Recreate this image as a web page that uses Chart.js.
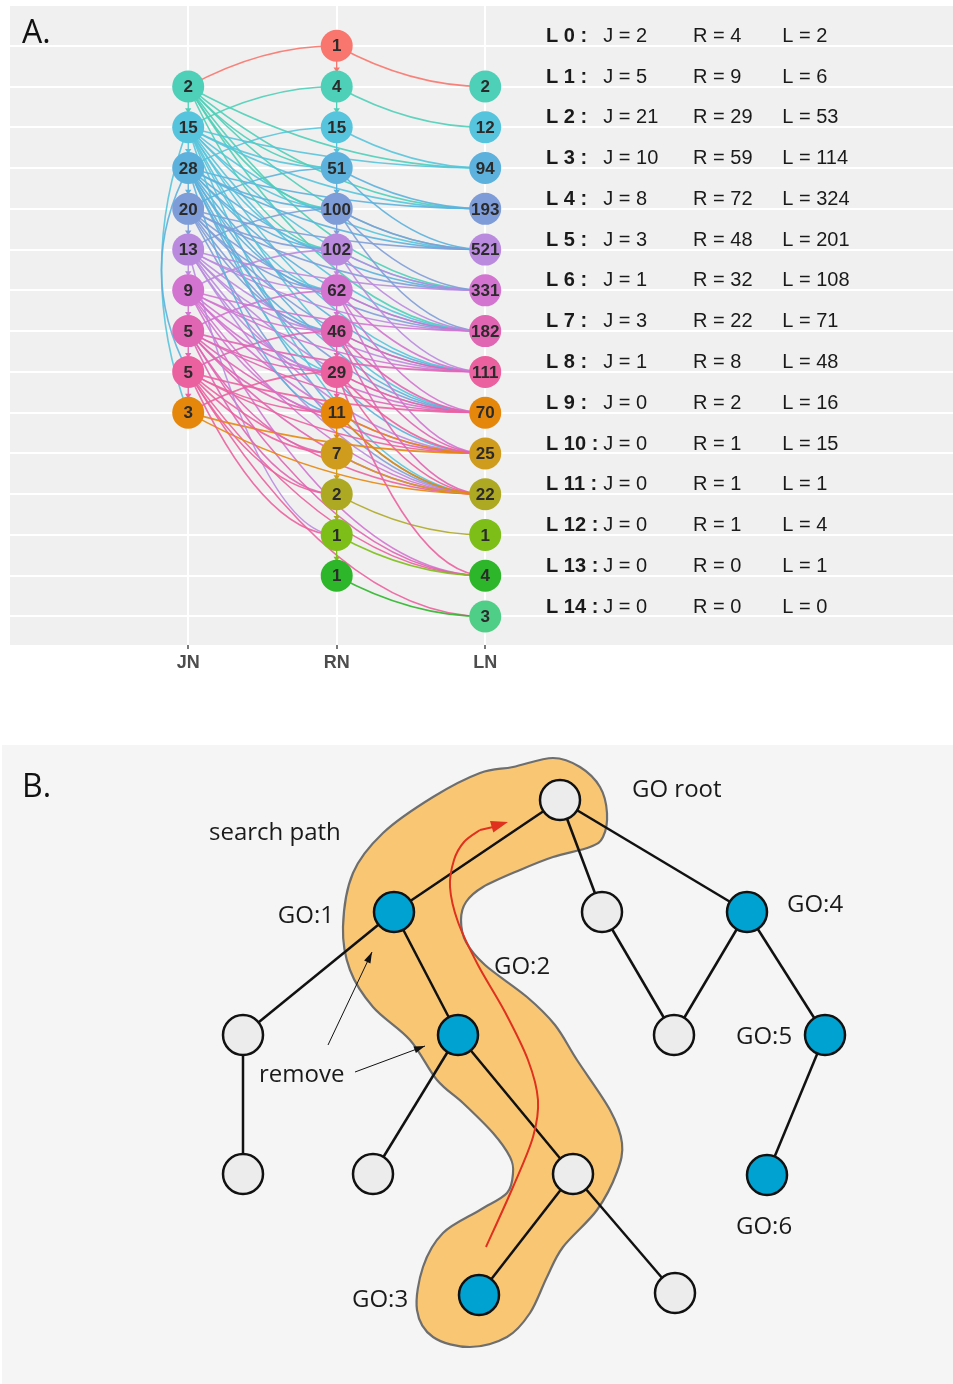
<!DOCTYPE html>
<html>
<head>
<meta charset="utf-8">
<script src="https://cdn.jsdelivr.net/npm/chart.js@4.4.1/dist/chart.umd.min.js"></script>
<style>
  html, body { margin: 0; padding: 0; background: #ffffff; }
  body { width: 953px; height: 1384px; position: relative; overflow: hidden; }
  #wrapA { position: absolute; left: 0; top: 0; width: 953px; height: 690px; }
  #wrapB { position: absolute; left: 2px; top: 745px; width: 951px; height: 639px; }
</style>
</head>
<body>
<div id="wrapA"><canvas id="chartA" width="953" height="690"></canvas></div>
<div id="wrapB"><canvas id="chartB" width="951" height="639"></canvas></div>
<script>
// ---------------- Panel A: level graph of JN / RN / LN nodes ----------------
const columnNames = ['JN', 'RN', 'LN'];

const jnLevels = [1, 2, 3, 4, 5, 6, 7, 8, 9];
const jnCounts = [2, 15, 28, 20, 13, 9, 5, 5, 3];

const rnLevels = [0, 1, 2, 3, 4, 5, 6, 7, 8, 9, 10, 11, 12, 13];
const rnCounts = [1, 4, 15, 51, 100, 102, 62, 46, 29, 11, 7, 2, 1, 1];

const lnLevels = [1, 2, 3, 4, 5, 6, 7, 8, 9, 10, 11, 12, 13, 14];
const lnCounts = [2, 12, 94, 193, 521, 331, 182, 111, 70, 25, 22, 1, 4, 3];

// per-level summary printed at the right of the panel
const tableLevels = [0, 1, 2, 3, 4, 5, 6, 7, 8, 9, 10, 11, 12, 13, 14];
const tableJ = [2, 5, 21, 10, 8, 3, 1, 3, 1, 0, 0, 0, 0, 0, 0];
const tableR = [4, 9, 29, 59, 72, 48, 32, 22, 8, 2, 1, 1, 1, 0, 0];
const tableL = [2, 6, 53, 114, 324, 201, 108, 71, 48, 16, 15, 1, 4, 1, 0];

// links between columns, as [level on the left column, level on the right column]
const linksJR = [
  [1, 0], [2, 1], [3, 2], [4, 3], [5, 4], [6, 5], [7, 6], [8, 7], [9, 8],
  [1, 3], [1, 4], [1, 5],
  [2, 3], [2, 4], [2, 5], [2, 6], [2, 8],
  [3, 4], [3, 5], [3, 6], [3, 7], [3, 9],
  [4, 5], [4, 6], [4, 7],
  [5, 6], [5, 7], [5, 8], [5, 12],
  [6, 7], [6, 8], [6, 9],
  [7, 8], [7, 9], [7, 10], [7, 11],
  [8, 9], [8, 10], [8, 11], [8, 12]
];
const linksJL = [
  [1, 3], [1, 4], [1, 5], [1, 6], [1, 7],
  [2, 3], [2, 4], [2, 5], [2, 6], [2, 7], [2, 8], [2, 9], [2, 11],
  [3, 4], [3, 5], [3, 6], [3, 7], [3, 8], [3, 9], [3, 10], [3, 11],
  [4, 5], [4, 6], [4, 7], [4, 8], [4, 9], [4, 11],
  [5, 6], [5, 7], [5, 8], [5, 9], [5, 10], [5, 11],
  [6, 7], [6, 8], [6, 9], [6, 10], [6, 11], [6, 13],
  [7, 8], [7, 9], [7, 10], [7, 11], [7, 13],
  [8, 9], [8, 10], [8, 11], [8, 13], [8, 14],
  [9, 10], [9, 11]
];
const linksRL = [
  [0, 1], [1, 2], [2, 3], [3, 4], [4, 5], [5, 6], [6, 7], [7, 8], [8, 9],
  [9, 10], [10, 11], [11, 12], [12, 13], [13, 14],
  [3, 5], [4, 6], [4, 7], [5, 7], [5, 8], [6, 8], [6, 9], [6, 10],
  [7, 9], [7, 10], [7, 11], [8, 10], [8, 11], [8, 13], [9, 11]
];
// long links inside the JN column, drawn as arcs on its left side
const linksJJ = [[2, 9], [3, 8]];

const levelColors = [
  '#F8766D', '#4ECFB7', '#56C4DC', '#5CB1DD', '#7E9DD8', '#BA8ADF', '#D274D0',
  '#E065B2', '#EB609F', '#E5870B', '#CF9C1D', '#AEA923', '#7DBF18', '#2DB62A', '#4ECE87'
];

const SANS = '"Liberation Sans", Arial, Helvetica, sans-serif';
const HUMAN = '"Open Sans", "Noto Sans", sans-serif';

function columnData(col, levels, counts) {
  return levels.map((lv, i) => ({ x: col, y: lv, n: counts[i] }));
}

const panelBgA = {
  id: 'panelBgA',
  beforeDraw(chart) {
    const { ctx, chartArea: a } = chart;
    ctx.save();
    ctx.fillStyle = '#F0F0F0';
    ctx.fillRect(a.left, a.top, a.right - a.left, a.bottom - a.top);
    ctx.restore();
  }
};

const linkLayer = {
  id: 'linkLayer',
  beforeDatasetsDraw(chart) {
    const { ctx, chartArea: a } = chart;
    const sx = chart.scales.x, sy = chart.scales.y;
    ctx.save();
    ctx.beginPath();
    ctx.rect(a.left, a.top, a.right - a.left, a.bottom - a.top);
    ctx.clip();
    ctx.lineWidth = 1.6;
    ctx.globalAlpha = 0.9;
    ctx.lineCap = 'round';

    const link = (c1, l1, c2, l2) => {
      const x1 = sx.getPixelForValue(c1), y1 = sy.getPixelForValue(l1);
      const x2 = sx.getPixelForValue(c2), y2 = sy.getPixelForValue(l2);
      ctx.strokeStyle = levelColors[Math.min(l1, l2)];
      ctx.beginPath();
      ctx.moveTo(x1, y1);
      ctx.quadraticCurveTo(x1 + (x2 - x1) * 0.5, y2, x2, y2);
      ctx.stroke();
    };
    linksJL.forEach(([a1, b1]) => link(1, a1, 3, b1));
    linksJR.forEach(([a1, b1]) => link(1, a1, 2, b1));
    linksRL.forEach(([a1, b1]) => link(2, a1, 3, b1));

    // arcs on the left of the JN column
    linksJJ.forEach(([l1, l2]) => {
      const x0 = sx.getPixelForValue(1);
      const xc = sx.getPixelForValue(1 - 0.36);
      const y1 = sy.getPixelForValue(l1), y2 = sy.getPixelForValue(l2);
      ctx.strokeStyle = levelColors[Math.min(l1, l2)];
      ctx.beginPath();
      ctx.moveTo(x0, y1);
      ctx.quadraticCurveTo(xc, (y1 + y2) / 2, x0, y2);
      ctx.stroke();
    });

    // short arrows joining consecutive levels inside the JN and RN columns
    ctx.globalAlpha = 1;
    const chain = (col, levels) => {
      for (let i = 0; i < levels.length - 1; i++) {
        const xp = sx.getPixelForValue(col);
        const yA = sy.getPixelForValue(levels[i]) + 15;
        const yB = sy.getPixelForValue(levels[i + 1]) - 15;
        const colr = levelColors[levels[i]];
        ctx.strokeStyle = colr;
        ctx.fillStyle = colr;
        ctx.lineWidth = 1.4;
        ctx.beginPath();
        ctx.moveTo(xp, yA);
        ctx.lineTo(xp, yB - 2);
        ctx.stroke();
        ctx.beginPath();
        ctx.moveTo(xp - 3.2, yB - 4);
        ctx.lineTo(xp + 3.2, yB - 4);
        ctx.lineTo(xp, yB + 1);
        ctx.closePath();
        ctx.fill();
      }
    };
    chain(1, jnLevels);
    chain(2, rnLevels);
    ctx.restore();
  }
};

const nodeText = {
  id: 'nodeText',
  afterDatasetsDraw(chart) {
    const { ctx } = chart;
    ctx.save();
    ctx.font = 'bold 17px ' + SANS;
    ctx.fillStyle = '#2B2B2B';
    ctx.textAlign = 'center';
    ctx.textBaseline = 'middle';
    chart.data.datasets.forEach((ds, di) => {
      const meta = chart.getDatasetMeta(di);
      meta.data.forEach((pt, j) => {
        ctx.fillText(String(ds.data[j].n), pt.x, pt.y + 1);
      });
    });

    // level summary table
    const sx = chart.scales.x, sy = chart.scales.y;
    ctx.textAlign = 'left';
    ctx.fillStyle = '#1A1A1A';
    tableLevels.forEach((lv, i) => {
      const yy = sy.getPixelForValue(lv - 0.23);
      ctx.font = 'bold 20px ' + SANS;
      ctx.fillText('L ' + lv + ' :', sx.getPixelForValue(3.41), yy);
      ctx.font = '20px ' + SANS;
      ctx.fillText('J = ' + tableJ[i], sx.getPixelForValue(3.795), yy);
      ctx.fillText('R = ' + tableR[i], sx.getPixelForValue(4.4), yy);
      ctx.fillText('L = ' + tableL[i], sx.getPixelForValue(5.0), yy);
    });
    ctx.restore();
  },
  afterDraw(chart) {
    const { ctx } = chart;
    ctx.save();
    ctx.font = '32px ' + HUMAN;
    ctx.fillStyle = '#111111';
    ctx.textBaseline = 'alphabetic';
    ctx.fillText('A.', 22, 43);
    ctx.restore();
  }
};

const nodeStyle = (levels) => ({
  backgroundColor: levels.map(lv => levelColors[lv]),
  pointRadius: 16,
  pointHoverRadius: 16,
  borderWidth: 0,
  pointBorderWidth: 0
});

new Chart(document.getElementById('chartA'), {
  type: 'scatter',
  data: {
    datasets: [
      Object.assign({ label: columnNames[0], data: columnData(1, jnLevels, jnCounts) }, nodeStyle(jnLevels)),
      Object.assign({ label: columnNames[1], data: columnData(2, rnLevels, rnCounts) }, nodeStyle(rnLevels)),
      Object.assign({ label: columnNames[2], data: columnData(3, lnLevels, lnCounts) }, nodeStyle(lnLevels))
    ]
  },
  options: {
    responsive: false,
    animation: false,
    events: [],
    layout: { autoPadding: false, padding: { left: 10, top: 5, right: 0, bottom: 15 } },
    plugins: { legend: { display: false }, tooltip: { enabled: false } },
    scales: {
      x: {
        type: 'linear',
        min: -0.2,
        max: 6.15,
        afterBuildTicks: axis => { axis.ticks = [1, 2, 3].map(v => ({ value: v })); },
        afterFit: s => { s.height = 30; },
        ticks: {
          callback: v => columnNames[v - 1],
          font: { family: SANS, size: 18, weight: 'bold' },
          color: '#4D4D4D',
          padding: 3,
          maxRotation: 0,
          autoSkip: false
        },
        grid: { color: '#FFFFFF', lineWidth: 2, tickColor: '#333333', tickLength: 4, tickWidth: 1.3 },
        border: { display: false }
      },
      y: {
        type: 'linear',
        reverse: true,
        min: -1,
        max: 14.7,
        afterBuildTicks: axis => {
          const t = [];
          for (let v = -1; v <= 14; v++) t.push({ value: v });
          axis.ticks = t;
        },
        afterFit: s => { s.width = 0; },
        ticks: { display: false },
        grid: { color: '#FFFFFF', lineWidth: 2, drawTicks: false },
        border: { display: false }
      }
    }
  },
  plugins: [panelBgA, linkLayer, nodeText]
});

// ---------------- Panel B: GO tree with the search path ----------------
// node layout in panel units (x to the right, y downward)
const treeNodeX = [558, 392, 600, 745, 241, 456, 672, 823, 241, 371, 571, 765, 477, 673];
const treeNodeY = [55, 167, 167, 167, 290, 290, 290, 290, 429, 429, 429, 430, 550, 548];
const treeNodeMarked = [0, 1, 0, 1, 0, 1, 0, 1, 0, 0, 0, 1, 1, 0];
const treeEdges = [
  [0, 1], [0, 2], [0, 3], [1, 4], [1, 5], [4, 8], [5, 9], [5, 10],
  [10, 12], [10, 13], [2, 6], [3, 6], [3, 7], [7, 11]
];

const treeLabels = ['GO root', 'search path', 'GO:1', 'GO:2', 'GO:4', 'GO:5', 'GO:6', 'GO:3', 'remove'];
const treeLabelX = [630, 207, 332, 492, 785, 734, 734, 350, 257];
const treeLabelY = [52, 95, 178, 229, 167, 299, 489, 562, 337];
const treeLabelAlign = ['left', 'left', 'right', 'left', 'left', 'left', 'left', 'left', 'left'];

// outline of the highlighted search path
const pathOutlineX = [511, 551, 578, 598, 605, 601, 588, 551, 518, 481, 464, 459, 464, 483, 525, 553, 575,
  608, 620, 615, 595, 561, 545, 528, 505, 468, 431, 415, 421, 441, 478, 505, 511, 508, 491, 461,
  435, 408, 371, 348, 341, 351, 381, 431, 478];
const pathOutlineY = [22, 13, 22, 42, 68, 92, 102, 112, 125, 142, 157, 175, 197, 220, 252, 280, 315,
  365, 398, 427, 465, 502, 532, 568, 592, 602, 592, 565, 522, 488, 465, 448, 428, 412, 388, 358,
  335, 295, 262, 225, 182, 128, 88, 52, 28];

// red search arrow from GO:3 up to the root
const searchArrowX = [484, 511, 531, 536, 526, 503, 476, 456, 448, 452, 462, 478, 506];
const searchArrowY = [502, 442, 392, 355, 315, 267, 220, 177, 142, 115, 97, 85, 77];

// "remove" pointers: [fromX, fromY, toX, toY]
const removePointers = [[326, 300, 370, 207], [353, 327, 423, 301]];

function splinePath(ctx, pts, closed) {
  const n = pts.length;
  const get = i => closed ? pts[(i + n) % n] : pts[Math.max(0, Math.min(n - 1, i))];
  ctx.moveTo(pts[0][0], pts[0][1]);
  const segs = closed ? n : n - 1;
  for (let i = 0; i < segs; i++) {
    const p0 = get(i - 1), p1 = get(i), p2 = get(i + 1), p3 = get(i + 2);
    ctx.bezierCurveTo(
      p1[0] + (p2[0] - p0[0]) / 6, p1[1] + (p2[1] - p0[1]) / 6,
      p2[0] - (p3[0] - p1[0]) / 6, p2[1] - (p3[1] - p1[1]) / 6,
      p2[0], p2[1]);
  }
  if (closed) ctx.closePath();
}

function arrowHead(ctx, fx, fy, tx, ty, len, half) {
  const ang = Math.atan2(ty - fy, tx - fx);
  const bx = tx - len * Math.cos(ang), by = ty - len * Math.sin(ang);
  ctx.beginPath();
  ctx.moveTo(tx, ty);
  ctx.lineTo(bx + half * Math.sin(ang), by - half * Math.cos(ang));
  ctx.lineTo(bx - half * Math.sin(ang), by + half * Math.cos(ang));
  ctx.closePath();
  ctx.fill();
}

const treeLayer = {
  id: 'treeLayer',
  beforeDraw(chart) {
    const { ctx, chartArea: a } = chart;
    ctx.save();
    ctx.fillStyle = '#F4F5F4';
    ctx.fillRect(a.left, a.top, a.right - a.left, a.bottom - a.top);
    ctx.restore();
  },
  beforeDatasetsDraw(chart) {
    const { ctx } = chart;
    const sx = chart.scales.x, sy = chart.scales.y;
    const px = v => sx.getPixelForValue(v), py = v => sy.getPixelForValue(v);
    ctx.save();

    // highlighted band
    const outline = pathOutlineX.map((v, i) => [px(v), py(pathOutlineY[i])]);
    ctx.beginPath();
    splinePath(ctx, outline, true);
    ctx.fillStyle = '#F9C774';
    ctx.fill();
    ctx.lineWidth = 2.2;
    ctx.strokeStyle = '#6E6E6E';
    ctx.stroke();

    // tree edges
    ctx.strokeStyle = '#111111';
    ctx.lineWidth = 2.5;
    treeEdges.forEach(([i, j]) => {
      ctx.beginPath();
      ctx.moveTo(px(treeNodeX[i]), py(treeNodeY[i]));
      ctx.lineTo(px(treeNodeX[j]), py(treeNodeY[j]));
      ctx.stroke();
    });

    // search arrow
    const red = searchArrowX.map((v, i) => [px(v), py(searchArrowY[i])]);
    const n = red.length;
    ctx.strokeStyle = '#E0301E';
    ctx.fillStyle = '#E0301E';
    ctx.lineWidth = 2;
    ctx.beginPath();
    splinePath(ctx, red.slice(0, n - 1), false);
    ctx.stroke();
    ctx.beginPath();
    ctx.moveTo(red[n - 2][0], red[n - 2][1]);
    ctx.lineTo(red[n - 1][0] - 6, red[n - 1][1] + 3);
    ctx.stroke();
    arrowHead(ctx, red[n - 2][0], red[n - 2][1], red[n - 1][0], red[n - 1][1], 17, 6);
    ctx.restore();
  },
  afterDatasetsDraw(chart) {
    const { ctx } = chart;
    const sx = chart.scales.x, sy = chart.scales.y;
    const px = v => sx.getPixelForValue(v), py = v => sy.getPixelForValue(v);
    ctx.save();
    // pointers next to "remove"
    ctx.strokeStyle = '#111111';
    ctx.fillStyle = '#111111';
    ctx.lineWidth = 1;
    removePointers.forEach(([fx, fy, tx, ty]) => {
      const x1 = px(fx), y1 = py(fy), x2 = px(tx), y2 = py(ty);
      ctx.beginPath();
      ctx.moveTo(x1, y1);
      ctx.lineTo(x2, y2);
      ctx.stroke();
      arrowHead(ctx, x1, y1, x2, y2, 11, 3.5);
    });

    ctx.font = '24px ' + HUMAN;
    ctx.fillStyle = '#1A1A1A';
    ctx.textBaseline = 'alphabetic';
    treeLabels.forEach((t, i) => {
      ctx.textAlign = treeLabelAlign[i];
      ctx.fillText(t, px(treeLabelX[i]), py(treeLabelY[i]));
    });
    ctx.restore();
  },
  afterDraw(chart) {
    const { ctx } = chart;
    ctx.save();
    ctx.font = '32px ' + HUMAN;
    ctx.fillStyle = '#111111';
    ctx.textBaseline = 'alphabetic';
    ctx.fillText('B.', 20, 52);
    ctx.restore();
  }
};

new Chart(document.getElementById('chartB'), {
  type: 'scatter',
  data: {
    datasets: [{
      label: 'GO terms',
      data: treeNodeX.map((v, i) => ({ x: v, y: treeNodeY[i] })),
      backgroundColor: treeNodeMarked.map(m => m ? '#00A2D2' : '#EBECEB'),
      borderColor: '#111111',
      pointRadius: 20,
      pointHoverRadius: 20,
      pointBorderWidth: 2.5,
      borderWidth: 2.5
    }]
  },
  options: {
    responsive: false,
    animation: false,
    events: [],
    layout: { autoPadding: false, padding: 0 },
    plugins: { legend: { display: false }, tooltip: { enabled: false } },
    scales: {
      x: { type: 'linear', min: 0, max: 951, display: false },
      y: { type: 'linear', min: 0, max: 639, reverse: true, display: false }
    }
  },
  plugins: [treeLayer]
});
</script>
</body>
</html>
